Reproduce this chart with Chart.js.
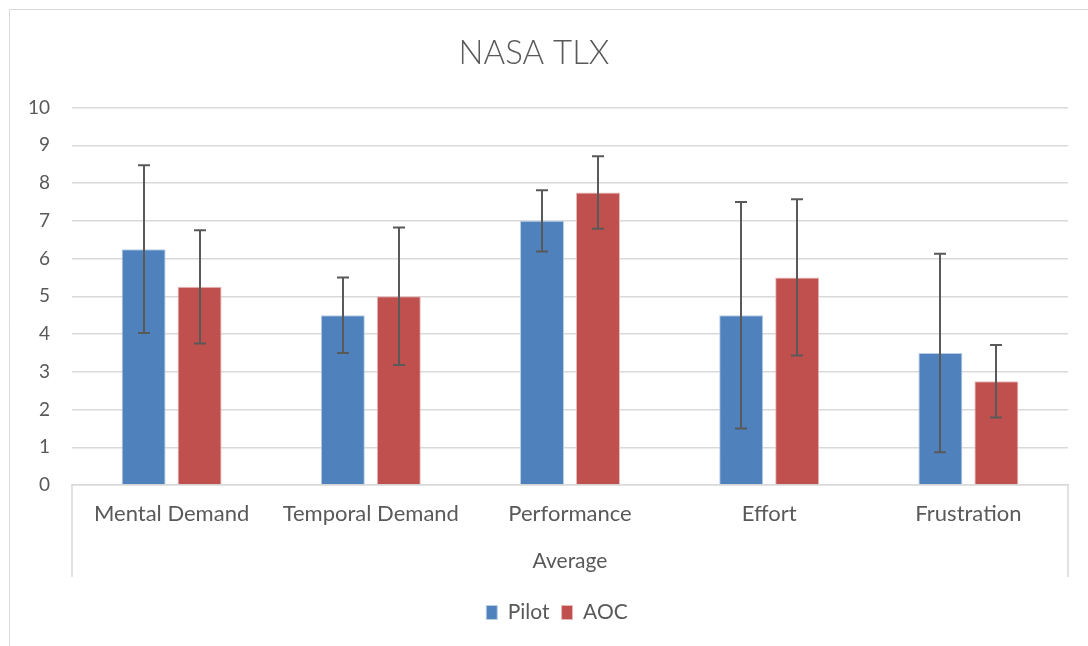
<!DOCTYPE html>
<html>
<head>
<meta charset="utf-8">
<script src="https://cdn.jsdelivr.net/npm/chart.js@4/dist/chart.umd.min.js"></script>
<style>
  html, body { margin: 0; padding: 0; background: #ffffff; }
  #wrap { position: relative; width: 1088px; height: 646px; }
</style>
</head>
<body>
<div id="wrap"><canvas id="c" width="1088" height="646"></canvas></div>
<script>
const categories = ["Mental Demand", "Temporal Demand", "Performance", "Effort", "Frustration"];
const pilotValues = [6.25, 4.5, 7.0, 4.5, 3.5];
const aocValues = [5.25, 5.0, 7.75, 5.5, 2.75];
const pilotErrors = [2.22, 1.0, 0.81, 3.0, 2.63];
const aocErrors = [1.5, 1.82, 0.96, 2.07, 0.96];
const yTicks = [0, 1, 2, 3, 4, 5, 6, 7, 8, 9, 10];
const groupLabel = "Average";
const chartTitle = "NASA TLX";

const FONT = "Lato, 'Open Sans', sans-serif";
const TXT = "#595959";

const errorBarPlugin = {
  id: 'errorBars',
  afterDatasetsDraw(chart) {
    const ctx = chart.ctx;
    const yScale = chart.scales.y;
    const errs = [pilotErrors, aocErrors];
    ctx.save();
    ctx.strokeStyle = "#595959";
    ctx.lineWidth = 2;
    chart.data.datasets.forEach((ds, di) => {
      const meta = chart.getDatasetMeta(di);
      meta.data.forEach((bar, i) => {
        const v = ds.data[i];
        const e = errs[di][i];
        const x = Math.round(bar.x);
        const yt = yScale.getPixelForValue(v + e);
        const yb = yScale.getPixelForValue(v - e);
        ctx.beginPath();
        ctx.moveTo(x, yt); ctx.lineTo(x, yb);
        ctx.moveTo(x - 6, yt); ctx.lineTo(x + 6, yt);
        ctx.moveTo(x - 6, yb); ctx.lineTo(x + 6, yb);
        ctx.stroke();
      });
    });
    ctx.restore();
  }
};

const framePlugin = {
  id: 'frame',
  afterLayout(chart) {
    if (chart.legend) {
      chart.legend.left += 23;
      chart.legend.right += 23;
    }
  },
  beforeDraw(chart) {
    const ctx = chart.ctx;
    ctx.save();
    ctx.fillStyle = "#ffffff";
    ctx.fillRect(0, 0, chart.width, chart.height);
    ctx.strokeStyle = "#d9d9d9";
    ctx.lineWidth = 1;
    ctx.beginPath();
    ctx.moveTo(9.5, chart.height);
    ctx.lineTo(9.5, 9.5);
    ctx.lineTo(chart.width, 9.5);
    ctx.stroke();
    ctx.restore();
  },
  afterDraw(chart) {
    const ctx = chart.ctx;
    const a = chart.chartArea;
    ctx.save();
    ctx.strokeStyle = "#d9d9d9";
    ctx.lineWidth = 1.5;
    ctx.beginPath();
    ctx.moveTo(a.left, a.bottom);
    ctx.lineTo(a.left, a.bottom + 92);
    ctx.moveTo(a.right, a.bottom);
    ctx.lineTo(a.right, a.bottom + 92);
    ctx.stroke();
    ctx.restore();
  }
};

new Chart(document.getElementById('c'), {
  type: 'bar',
  data: {
    labels: categories,
    datasets: [
      { label: 'Pilot', data: pilotValues, backgroundColor: '#4F81BD', borderColor: '#b9cde5', borderWidth: 1,
        categoryPercentage: 0.562, barPercentage: 0.786 },
      { label: 'AOC', data: aocValues, backgroundColor: '#C0504D', borderColor: '#e6b9b8', borderWidth: 1,
        categoryPercentage: 0.562, barPercentage: 0.786 }
    ]
  },
  options: {
    responsive: false,
    animation: false,
    devicePixelRatio: 1,
    layout: { padding: { left: 0, right: 20, top: 0, bottom: 13 } },
    plugins: {
      title: {
        display: true, text: chartTitle, color: TXT,
        font: { family: FONT, size: 33, weight: '300' },
        padding: { top: 34, bottom: 34 }
      },
      legend: {
        position: 'bottom',
        labels: {
          color: TXT, font: { family: FONT, size: 21 },
          boxWidth: 11, boxHeight: 14, padding: 12
        }
      },
      tooltip: { enabled: false }
    },
    scales: {
      y: {
        min: 0, max: 10,
        afterBuildTicks(scale) { scale.ticks = yTicks.map(v => ({ value: v })); },
        afterFit(scale) { scale.width = 72; },
        ticks: { color: TXT, font: { family: FONT, size: 19 }, padding: 22 },
        grid: { color: '#d9d9d9', lineWidth: 1.5, drawTicks: false },
        border: { display: false }
      },
      x: {
        afterFit(scale) { scale.height = 105; },
        ticks: { color: TXT, font: { family: FONT, size: 22 }, padding: 16, maxRotation: 0, autoSkip: false },
        grid: { display: false, drawTicks: false },
        border: { display: true, color: '#d9d9d9', width: 1.5 },
        title: { display: true, text: groupLabel, color: TXT, font: { family: FONT, size: 21 }, padding: { top: 4, bottom: 16 } }
      }
    }
  },
  plugins: [framePlugin, errorBarPlugin]
});
</script>
</body>
</html>
